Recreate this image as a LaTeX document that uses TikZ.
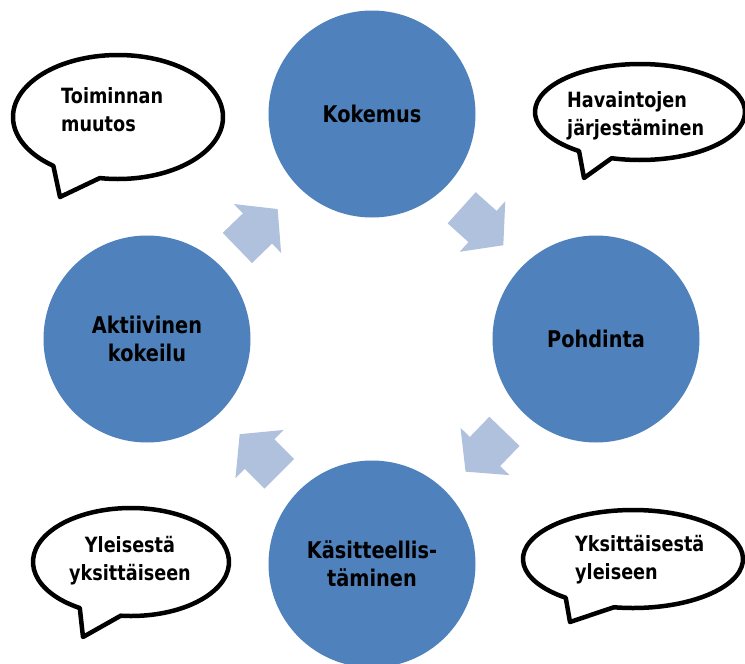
\documentclass[tikz,border=0pt]{standalone}
\usepackage{fontspec}
\newfontfamily\labelfont{DejaVu Sans}[FakeStretch=0.84]
\usetikzlibrary{calc}
\definecolor{stageblue}{HTML}{4F81BD}
\definecolor{flowblue}{HTML}{B0C1DE}

\tikzset{
  stage/.style={circle, fill=stageblue, minimum size=207pt, inner sep=0pt,
    align=center, text=black, font=\labelfont\bfseries\fontsize{23}{28}\selectfont},
  bubbletext/.style={inner sep=0pt, text=black,
    font=\labelfont\bfseries\fontsize{21}{28}\selectfont},
  bubble/.style={draw=black, fill=white, line width=4.5pt, line join=round},
  flow/.style={fill=flowblue},
}

% block arrow between two stages; the angle is measured on the page, counter-clockwise
\newcommand\flowarrow[2]{%
  \fill[flow, shift={(#1)}, rotate=#2]
    (-28,-21) -- (0,-21) -- (0,-34) -- (28,0) -- (0,34) -- (0,21) -- (-28,21) -- cycle;}

% speech bubble: centre, radii, tail base angles, tail tip
\newcommand\speechbubble[8]{%
  \draw[bubble] (#1,#2) ++(#5:#3 and #4)
    arc[start angle=#5, end angle=#6, x radius=#3, y radius=#4]
    -- (#7,#8) -- cycle;}

\begin{document}
\begin{tikzpicture}[x=1pt, y=-1pt]
  \useasboundingbox (0,0) rectangle (745,664);
  \fill[white] (0,0) rectangle (745,664);

  % the four stages of the cycle
  \node[stage] (kok) at (372,114) {Kokemus};
  \node[stage] (poh) at (596,339) {Pohdinta};
  \node[stage] (kas) at (372,564) {Käsitteellis-\\täminen};
  \node[stage] (akt) at (147,339) {Aktiivinen\\kokeilu};

  % arrows running clockwise between the stages
  \flowarrow{$(akt)!0.5!(kok)+(-2,2)$}{44}
  \flowarrow{$(kok)!0.5!(poh)+(-1.5,0)$}{-42}
  \flowarrow{$(poh)!0.5!(kas)+(1,0)$}{-134}
  \flowarrow{$(kas)!0.5!(akt)+(0,2.5)$}{135}

  % speech bubbles with their notes
  \speechbubble{118}{117}{105}{62}{128}{460}{60}{197}
  \node[bubbletext, anchor=west, align=left] (note1) at (61,110) {Toiminnan\\muutos};

  \speechbubble{640}{112}{105}{48}{125.5}{465.7}{584}{178}
  \node[bubbletext, anchor=west, align=left] (note2) at (567,116) {Havaintojen\\järjestäminen};

  \speechbubble{131}{562}{98}{54}{121.5}{456}{83}{637}
  \node[bubbletext, align=center] (note3) at (130,561) {Yleisestä\\yksittäiseen};

  \speechbubble{633}{559}{110}{49}{127.7}{460}{570}{622}
  \node[bubbletext, anchor=west, align=left] (note4) at (575,560) {Yksittäisestä\\yleiseen};
\end{tikzpicture}
\end{document}
